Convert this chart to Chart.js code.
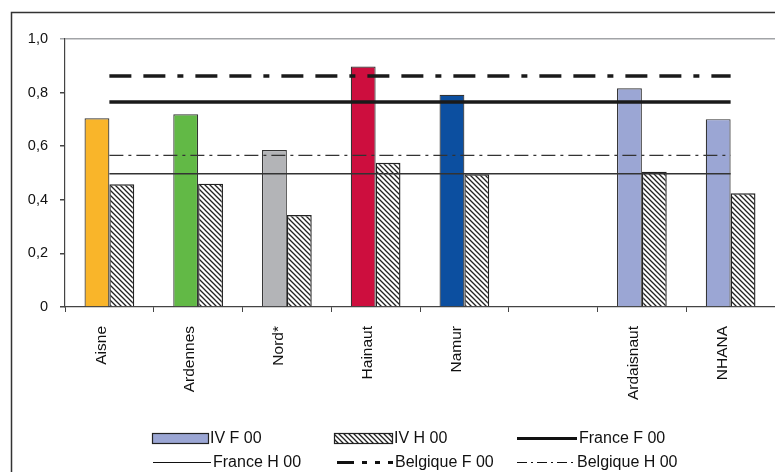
<!DOCTYPE html>
<html>
<head>
<meta charset="utf-8">
<script src="https://cdn.jsdelivr.net/npm/chart.js@4.4.0/dist/chart.umd.min.js"></script>
<style>
  html, body { margin: 0; padding: 0; background: #fff; }
  #wrap { width: 775px; height: 472px; position: relative; }
</style>
</head>
<body>
<div id="wrap"><canvas id="chart" width="775" height="472"></canvas></div>
<script>
// data
const categories = ['Aisne', 'Ardennes', 'Nord*', 'Hainaut', 'Namur', '', 'Ardaisnaut', 'NHANA'];
const barColors = ['#F9B52A', '#62B946', '#B3B4B7', '#CD0E3E', '#0C4FA0', '#9BA6D4', '#9BA6D4', '#9BA6D4'];
const ivF = [0.704, 0.719, 0.586, 0.897, 0.792, null, 0.816, 0.701];
const ivH = [0.458, 0.460, 0.343, 0.538, 0.495, null, 0.505, 0.424];
const franceF = [0.765, 0.765, 0.765, 0.765, 0.765, 0.765, 0.765, 0.765];
const franceH = [0.497, 0.497, 0.497, 0.497, 0.497, 0.497, 0.497, 0.497];
const belgiqueF = [0.862, 0.862, 0.862, 0.862, 0.862, 0.862, 0.862, 0.862];
const belgiqueH = [0.566, 0.566, 0.566, 0.566, 0.566, 0.566, 0.566, 0.566];
const yTicks = [0, 0.2, 0.4, 0.6, 0.8, 1.0];

const fontFamily = "'Liberation Sans', Arial, sans-serif";
const legendFont = "16px " + fontFamily;

function makeHatch() {
  const size = 5;
  const c = document.createElement('canvas');
  c.width = size; c.height = size;
  const g = c.getContext('2d');
  g.fillStyle = '#fff';
  g.fillRect(0, 0, size, size);
  g.strokeStyle = '#222';
  g.lineWidth = 1.3;
  g.beginPath();
  g.moveTo(-1, -1); g.lineTo(size + 1, size + 1);
  g.moveTo(-1, size - 1); g.lineTo(1, size + 1);
  g.moveTo(size - 1, -1); g.lineTo(size + 1, 1);
  g.stroke();
  return g.createPattern(c, 'repeat');
}
const hatch = makeHatch();

const dashBelgF = [22, 12, 22, 12, 6, 12];
const dashBelgH = [14, 5, 3, 5];

// frame + custom two-row legend
const framePlugin = {
  id: 'frame',
  afterDraw(chart) {
    const ctx = chart.ctx;
    ctx.save();
    ctx.strokeStyle = '#333';
    ctx.lineWidth = 1.5;
    ctx.strokeRect(11.5, 12.5, 800, 500);

    const items = [
      { x: 152, y: 438, w: 56, kind: 'box', fill: '#9BA6D4', text: 'IV F 00' },
      { x: 334, y: 438, w: 58, kind: 'box', fill: hatch, text: 'IV H 00' },
      { x: 517, y: 438, w: 60, kind: 'line', lw: 3, dash: [], text: 'France F 00' },
      { x: 153, y: 462, w: 58, kind: 'line', lw: 1, dash: [], text: 'France H 00' },
      { x: 337, y: 462, w: 56, kind: 'line', lw: 3, dash: [17, 8, 5, 8, 5, 8], text: 'Belgique F 00' },
      { x: 517, y: 462, w: 58, kind: 'line', lw: 1, dash: [10, 4, 2, 4], text: 'Belgique H 00' }
    ];
    items.forEach(it => {
      if (it.kind === 'box') {
        ctx.fillStyle = it.fill;
        ctx.fillRect(it.x, it.y - 5, it.w, 10);
        ctx.strokeStyle = '#222';
        ctx.lineWidth = 1.2;
        ctx.setLineDash([]);
        ctx.strokeRect(it.x + 0.5, it.y - 4.5, it.w, 10);
      } else {
        ctx.strokeStyle = '#111';
        ctx.lineWidth = it.lw;
        ctx.setLineDash(it.dash);
        ctx.beginPath();
        ctx.moveTo(it.x, it.y + 0.5);
        ctx.lineTo(it.x + it.w, it.y + 0.5);
        ctx.stroke();
      }
      ctx.setLineDash([]);
      ctx.fillStyle = '#111';
      ctx.font = legendFont;
      ctx.textBaseline = 'middle';
      ctx.fillText(it.text, it.x + it.w + 2, it.y + 1);
    });
    ctx.restore();
  }
};

new Chart(document.getElementById('chart').getContext('2d'), {
  type: 'bar',
  data: {
    labels: categories,
    datasets: [
      { type: 'line', label: 'Belgique F 00', data: belgiqueF, borderColor: '#1a1a1a', borderWidth: 3.5, borderDash: dashBelgF, pointRadius: 0, order: 0 },
      { type: 'line', label: 'France F 00', data: franceF, borderColor: '#1a1a1a', borderWidth: 3.5, pointRadius: 0, order: 0 },
      { type: 'line', label: 'Belgique H 00', data: belgiqueH, borderColor: '#333', borderWidth: 1.3, borderDash: dashBelgH, pointRadius: 0, order: 0 },
      { type: 'line', label: 'France H 00', data: franceH, borderColor: '#333', borderWidth: 1.5, pointRadius: 0, order: 0 },
      { label: 'IV F 00', data: ivF, backgroundColor: barColors, borderColor: '#333', borderWidth: 1.2, categoryPercentage: 0.56, barPercentage: 1, order: 1 },
      { label: 'IV H 00', data: ivH, backgroundColor: hatch, borderColor: '#222', borderWidth: 1.4, categoryPercentage: 0.56, barPercentage: 1, order: 1 }
    ]
  },
  options: {
    responsive: false,
    animation: false,
    layout: { padding: { top: 39, left: 0, right: 0, bottom: 0 } },
    plugins: { legend: { display: false }, tooltip: { enabled: false } },
    scales: {
      x: {
        afterFit(scale) { scale.height = 165; },
        border: { color: '#444', width: 1.2 },
        grid: { offset: true, drawOnChartArea: false, tickLength: 5, color: '#444' },
        ticks: { color: '#111', font: { family: fontFamily, size: 15.5 }, maxRotation: 90, minRotation: 90, padding: 14, labelOffset: -8, autoSkip: false }
      },
      y: {
        min: 0,
        max: 1,
        afterFit(scale) { scale.width = 65; },
        afterBuildTicks(scale) { scale.ticks = yTicks.map(v => ({ value: v })); },
        border: { color: '#444', width: 1.2 },
        grid: {
          tickLength: 5,
          color: ctx => (ctx.tick && ctx.tick.value === 1 ? '#A2A4A7' : 'rgba(0,0,0,0)'),
          tickColor: ctx => (ctx.tick && ctx.tick.value === 1 ? '#A2A4A7' : '#444'),
          lineWidth: 1.5
        },
        ticks: {
          color: '#111',
          font: { family: fontFamily, size: 14.5 },
          padding: 12,
          callback: v => (v === 0 ? '0' : v.toFixed(1).replace('.', ','))
        }
      }
    }
  },
  plugins: [framePlugin]
});
</script>
</body>
</html>
